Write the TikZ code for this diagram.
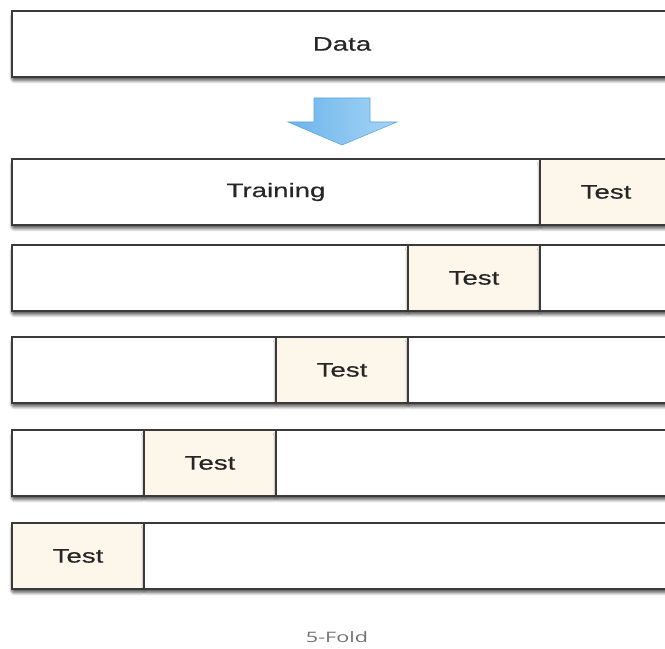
\documentclass[tikz,border=0pt]{standalone}
\usepackage{fontspec}
\setmainfont[FakeStretch=1.42,FakeBold=0.5]{Liberation Sans}
\newfontfamily\captionfont[FakeStretch=1.5]{Open Sans}
\usetikzlibrary{shadows.blur}
\definecolor{frame}{HTML}{3A3A3A}
\definecolor{testfill}{HTML}{FDF6EA}
\definecolor{arrowA}{HTML}{6CB4EA}
\definecolor{arrowB}{HTML}{A6D5F7}
\definecolor{arrowline}{HTML}{5AA4DC}
\begin{document}
\begin{tikzpicture}[x=0.75pt,y=-0.75pt,
  seg/.style={draw=frame, line width=1.1pt, fill=white, rectangle,
    inner sep=0pt, outer sep=0pt, minimum height=66*0.75pt,
    font=\fontsize{14.6pt}{17pt}\selectfont, text=black!85,
    blur shadow={shadow xshift=0pt, shadow yshift=-2.8pt,
      shadow blur steps=6, shadow blur extra rounding=1.2pt, shadow opacity=65}},
  testseg/.style={seg, fill=testfill},
  w1/.style={minimum width=132*0.75pt},
  w2/.style={minimum width=264*0.75pt},
  w3/.style={minimum width=396*0.75pt},
  w4/.style={minimum width=528*0.75pt},
  w5/.style={minimum width=660*0.75pt}]
\useasboundingbox (0,0) rectangle (665,649);
\begin{scope}
\clip (0,0) rectangle (665,649);
% source data
\node[seg, w5] (data) at (342,44) {Data};
% split arrow
\shade[left color=arrowA, right color=arrowB, draw=arrowline, line width=0.4pt]
  (314,98) -- (370,98) -- (370,122) -- (397,122) -- (342,145)
  -- (288,122) -- (314,122) -- cycle;
% fold 1
\node[seg, w4] (f1train) at (276,192) {Training};
\node[testseg, w1] (f1test) at (606,192) {Test};
% fold 2
\node[seg, w3] (f2a) at (210,278) {};
\node[testseg, w1] (f2test) at (474,278) {Test};
\node[seg, w1] (f2b) at (606,278) {};
% fold 3
\node[seg, w2] (f3a) at (144,370) {};
\node[testseg, w1] (f3test) at (342,370) {Test};
\node[seg, w2] (f3b) at (540,370) {};
% fold 4
\node[seg, w1] (f4a) at (78,463) {};
\node[testseg, w1] (f4test) at (210,463) {Test};
\node[seg, w3] (f4b) at (474,463) {};
% fold 5
\node[testseg, w1] (f5test) at (78,556) {Test};
\node[seg, w4] (f5b) at (408,556) {};
\end{scope}
\node[font=\captionfont\fontsize{10.8pt}{13pt}\selectfont, text=black!55] (caption) at (337,637) {5-Fold};
\end{tikzpicture}
\end{document}
